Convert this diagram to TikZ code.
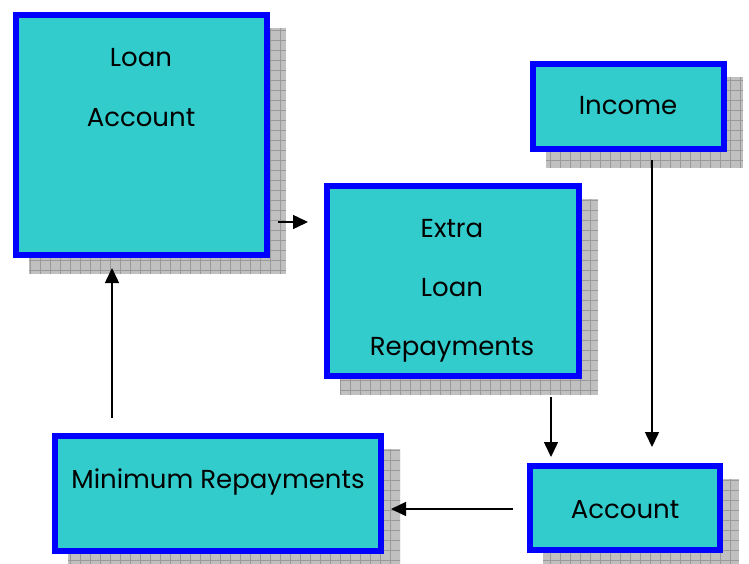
\documentclass[tikz,border=0pt]{standalone}
\usepackage{fontspec}
\setmainfont{Poppins}
\usetikzlibrary{arrows.meta}
\definecolor{boxfill}{HTML}{33CCCC}
\definecolor{boxline}{HTML}{0000FF}
\definecolor{shadefill}{HTML}{C0C0C0}
\definecolor{shadegrid}{HTML}{999999}
\newcommand\flowboxat[5]{%
  \fill[shadefill] (#2+16,#3+16) rectangle (#4+16,#5+16);
  \begin{scope}
    \clip (#2+16,#3+16) rectangle (#4+16,#5+16);
    \draw[shadegrid, line width=0.7pt, step=10pt] (#2+16,#3+16) grid (#4+16,#5+16);
  \end{scope}
  \node[flowbox, minimum width={(#4-#2-6)*1pt}, minimum height={(#5-#3-6)*1pt}]
    (#1) at ({(#2+#4)/2},{(#3+#5)/2}) {};
}
\begin{document}
\begin{tikzpicture}[x=1pt,y=-1pt,
  flowbox/.style={draw=boxline, line width=6pt, fill=boxfill, inner sep=0pt, outer sep=0pt},
  lbl/.style={font=\fontsize{26}{26}\selectfont, text=black, inner sep=0pt, anchor=base},
  arr/.style={line width=1.5pt, -{Triangle[length=15pt,width=14pt]}}]
\useasboundingbox (0,0) rectangle (749,563);

\flowboxat{loan}{13}{12}{270}{258}
\flowboxat{extra}{324}{183}{582}{379}
\flowboxat{income}{530}{61}{727}{152}
\flowboxat{minimum}{52}{433}{384}{554}
\flowboxat{account}{527}{463}{723}{553}

\node[lbl] (loanA) at (141,66) {Loan};
\node[lbl] (loanB) at (141,126) {Account};
\node[lbl] (extraA) at (452,237) {Extra};
\node[lbl] (extraB) at (452,296) {Loan};
\node[lbl] (extraC) at (452,355) {Repayments};
\node[lbl] (incomeA) at (628,114) {Income};
\node[lbl] (minimumA) at (218,488) {Minimum Repayments};
\node[lbl] (accountA) at (625,518) {Account};

\coordinate (a1s) at (278,222); \coordinate (a1e) at (308,222);
\coordinate (a2s) at (112,418); \coordinate (a2e) at (112,268);
\coordinate (a3s) at (652,160); \coordinate (a3e) at (652,447);
\coordinate (a4s) at (551,397); \coordinate (a4e) at (551,457);
\coordinate (a5s) at (513,509); \coordinate (a5e) at (391,509);

\draw[arr] (a1s) -- (a1e);
\draw[arr] (a2s) -- (a2e);
\draw[arr] (a3s) -- (a3e);
\draw[arr] (a4s) -- (a4e);
\draw[arr] (a5s) -- (a5e);
\end{tikzpicture}
\end{document}
